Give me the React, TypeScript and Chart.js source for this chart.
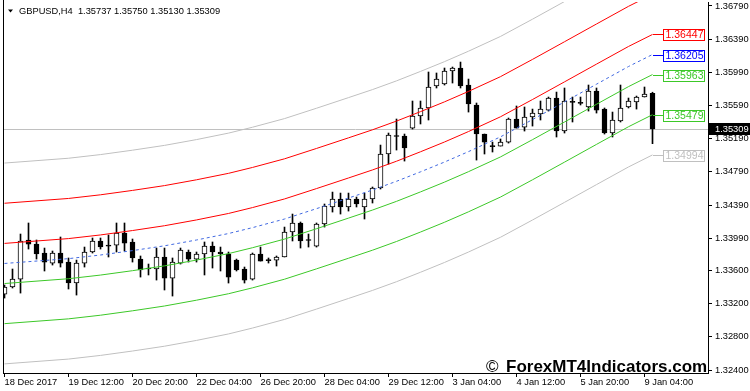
import React, { useEffect, useRef } from "react";
import { Chart, registerables } from "chart.js";

Chart.register(...registerables);

// ---- Data (GBPUSD, H4) ----
const symbol = "GBPUSD,H4";

const opens = [
  1.33316, 1.33401, 1.33497, 1.33968, 1.33919, 1.33811, 1.3369, 1.33811, 1.33702, 1.33449,
  1.3369, 1.33823, 1.33956, 1.33907, 1.33907, 1.34052, 1.33944, 1.33738, 1.3363, 1.33618,
  1.33763, 1.33509, 1.3369, 1.33823, 1.33738, 1.33799, 1.33895, 1.33823, 1.33799, 1.33726,
  1.33618, 1.33497, 1.33799, 1.33726, 1.33726, 1.33763, 1.34064, 1.34173, 1.33968, 1.33895,
  1.34161, 1.34366, 1.34462, 1.34366, 1.34462, 1.34366, 1.34462, 1.34595, 1.35005, 1.35222,
  1.35222, 1.35318, 1.35463, 1.3556, 1.35825, 1.35849, 1.36006, 1.36042, 1.35837, 1.35596,
  1.35246, 1.35101, 1.35101, 1.35149, 1.35427, 1.3533, 1.35451, 1.35487, 1.35535, 1.3568,
  1.35282, 1.35632, 1.3562, 1.35572, 1.35765, 1.35547, 1.35258, 1.35403, 1.35572, 1.35632,
  1.35692, 1.35737,
];
const highs = [
  1.33425, 1.33618, 1.3404, 1.34173, 1.33968, 1.33871, 1.33835, 1.34004, 1.33751, 1.33726,
  1.33883, 1.33992, 1.33992, 1.34028, 1.34173, 1.34173, 1.3398, 1.33775, 1.33678, 1.33871,
  1.33871, 1.33751, 1.33871, 1.33847, 1.33823, 1.33944, 1.33944, 1.33883, 1.33823, 1.33738,
  1.33642, 1.33811, 1.33883, 1.33751, 1.33775, 1.34124, 1.34281, 1.34185, 1.3404, 1.34173,
  1.34402, 1.34546, 1.34534, 1.34534, 1.34486, 1.34534, 1.34607, 1.35113, 1.35258, 1.35427,
  1.35246, 1.35644, 1.35644, 1.35994, 1.35982, 1.36042, 1.36054, 1.36114, 1.35909, 1.3562,
  1.35246, 1.35149, 1.35186, 1.35439, 1.35584, 1.35572, 1.35547, 1.35644, 1.35692, 1.35752,
  1.35801, 1.35692, 1.35692, 1.35837, 1.35801, 1.3556, 1.35511, 1.35837, 1.3568, 1.35704,
  1.35813, 1.3575,
];
const lows = [
  1.33268, 1.33389, 1.33328, 1.33859, 1.33738, 1.33594, 1.33666, 1.33642, 1.33377, 1.33304,
  1.33642, 1.33811, 1.33859, 1.33763, 1.33823, 1.33835, 1.33702, 1.33521, 1.33546, 1.33485,
  1.33365, 1.33292, 1.33678, 1.33702, 1.33702, 1.33546, 1.3363, 1.33594, 1.33449, 1.33594,
  1.33449, 1.33485, 1.33714, 1.3369, 1.33654, 1.33763, 1.33956, 1.33871, 1.33883, 1.33883,
  1.34124, 1.34305, 1.34281, 1.34317, 1.34366, 1.34221, 1.34414, 1.34583, 1.34884, 1.35053,
  1.3492, 1.35306, 1.35367, 1.35415, 1.35801, 1.35837, 1.35861, 1.35801, 1.35511, 1.34932,
  1.35005, 1.35029, 1.35101, 1.35137, 1.35318, 1.35282, 1.35342, 1.35415, 1.35523, 1.3521,
  1.35258, 1.35391, 1.35596, 1.35523, 1.35499, 1.35246, 1.3521, 1.35391, 1.3556, 1.35547,
  1.35692, 1.3513,
];
const closes = [
  1.33401, 1.33497, 1.33956, 1.33919, 1.33799, 1.33702, 1.33811, 1.3369, 1.33449, 1.3369,
  1.33823, 1.33956, 1.33883, 1.33895, 1.34052, 1.33931, 1.33751, 1.33606, 1.33618, 1.33763,
  1.33509, 1.33702, 1.33847, 1.33738, 1.33799, 1.33895, 1.33823, 1.33799, 1.33521, 1.33606,
  1.33485, 1.33799, 1.33714, 1.3372, 1.33763, 1.34064, 1.34173, 1.33956, 1.33962, 1.34161,
  1.34378, 1.34462, 1.34366, 1.34462, 1.34402, 1.34462, 1.34595, 1.35005, 1.35234, 1.35216,
  1.35077, 1.35463, 1.3556, 1.35813, 1.35909, 1.36006, 1.36042, 1.35825, 1.35608, 1.35246,
  1.35149, 1.35095, 1.35149, 1.35427, 1.35318, 1.35451, 1.35499, 1.35547, 1.3568, 1.35282,
  1.35644, 1.35628, 1.35616, 1.35765, 1.35535, 1.35258, 1.35415, 1.3556, 1.35644, 1.35692,
  1.35728, 1.35309,
];

// x-axis tick labels (bar index -> label)
const xTickIndex = [0, 8, 16, 24, 32, 40, 48, 56, 64, 72, 80];
const xTickLabels = [
  "18 Dec 2017", "19 Dec 12:00", "20 Dec 20:00", "22 Dec 04:00", "26 Dec 20:00",
  "28 Dec 04:00", "29 Dec 12:00", "3 Jan 04:00", "4 Jan 12:00", "5 Jan 20:00", "9 Jan 04:00",
];
// y-axis tick values
const yTicks = [1.324, 1.328, 1.332, 1.336, 1.3399, 1.3439, 1.3479, 1.3519, 1.3559, 1.3599, 1.3639, 1.3679];
const yMin = 1.32364;
const yMax = 1.368382;

// regression channel lines, sampled at these bar indices
const bandIndex = [0, 8, 12, 16, 20, 24, 28, 31, 35, 39, 43, 46, 49, 52, 55, 58, 62, 66, 70, 74, 78, 81];
const upper3 = [1.34896, 1.34954, 1.34998, 1.35051, 1.35109, 1.35179, 1.35257, 1.35328, 1.35432, 1.35557, 1.35685, 1.35782, 1.35887, 1.36001, 1.36119, 1.36245, 1.36423, 1.36631, 1.36844, 1.37058, 1.37271, 1.37416];
const upper2 = [1.34411, 1.34469, 1.34513, 1.34566, 1.34624, 1.34694, 1.34772, 1.34843, 1.34947, 1.35072, 1.352, 1.35297, 1.35402, 1.35516, 1.35634, 1.3576, 1.35938, 1.36146, 1.36359, 1.36573, 1.36786, 1.36931];
const upper1 = [1.33927, 1.33985, 1.34029, 1.34082, 1.3414, 1.3421, 1.34288, 1.34359, 1.34463, 1.34588, 1.34716, 1.34813, 1.34918, 1.35032, 1.3515, 1.35276, 1.35454, 1.35662, 1.35875, 1.36089, 1.36302, 1.36447];
const midLine = [1.33685, 1.33743, 1.33787, 1.3384, 1.33898, 1.33968, 1.34046, 1.34117, 1.34221, 1.34346, 1.34474, 1.34571, 1.34676, 1.3479, 1.34908, 1.35034, 1.35212, 1.3542, 1.35633, 1.35847, 1.3606, 1.36205];
const lower1 = [1.33443, 1.33501, 1.33545, 1.33598, 1.33656, 1.33726, 1.33804, 1.33875, 1.33979, 1.34104, 1.34232, 1.34329, 1.34434, 1.34548, 1.34666, 1.34792, 1.3497, 1.35178, 1.35391, 1.35605, 1.35818, 1.35963];
const lower2 = [1.32959, 1.33017, 1.33061, 1.33114, 1.33172, 1.33242, 1.3332, 1.33391, 1.33495, 1.3362, 1.33748, 1.33845, 1.3395, 1.34064, 1.34182, 1.34308, 1.34486, 1.34694, 1.34907, 1.35121, 1.35334, 1.35479];
const lower3 = [1.32474, 1.32532, 1.32576, 1.32629, 1.32687, 1.32757, 1.32835, 1.32906, 1.3301, 1.33135, 1.33263, 1.3336, 1.33465, 1.33579, 1.33697, 1.33823, 1.34001, 1.34209, 1.34422, 1.34636, 1.34849, 1.34994];

const currentPrice = closes[closes.length - 1];
const watermark = "ForexMT4Indicators.com";

// ---- Styles ----
const FONT = '"Liberation Sans", Arial, sans-serif';
const bandStyles = [
  { values: upper3, color: "#c0c0c0", labelColor: "#c0c0c0", dash: [] as number[] },
  { values: upper2, color: "#ff0000", labelColor: "#ff0000", dash: [] as number[] },
  { values: upper1, color: "#ff0000", labelColor: "#ff0000", dash: [] as number[] },
  { values: midLine, color: "#4169e1", labelColor: "#0000ff", dash: [3, 3] },
  { values: lower1, color: "#3cc828", labelColor: "#3cc828", dash: [] as number[] },
  { values: lower2, color: "#3cc828", labelColor: "#3cc828", dash: [] as number[] },
  { values: lower3, color: "#c0c0c0", labelColor: "#c0c0c0", dash: [] as number[] },
];

const decorPlugin = {
  id: "mt4decor",
  beforeDatasetsDraw(chart: any) {
    const { ctx, chartArea: a, scales } = chart;
    const py = Math.round(scales.y.getPixelForValue(currentPrice)) + 0.5;
    ctx.save();
    ctx.strokeStyle = "#c0c0c0";
    ctx.lineWidth = 1;
    ctx.beginPath();
    ctx.moveTo(a.left, py);
    ctx.lineTo(a.right, py);
    ctx.stroke();
    ctx.restore();
  },
  afterDraw(chart: any) {
    const { ctx, chartArea: a, scales } = chart;
    const x = scales.x;
    const y = scales.y;
    ctx.save();
    ctx.lineWidth = 1;
    // left frame line
    ctx.strokeStyle = "#000";
    ctx.beginPath();
    ctx.moveTo(a.left + 0.5, 0);
    ctx.lineTo(a.left + 0.5, a.bottom + 1);
    ctx.stroke();

    // band end labels
    const lastX = Math.round(x.getPixelForValue(bandIndex[bandIndex.length - 1]));
    bandStyles.forEach((b) => {
      const v = b.values[b.values.length - 1];
      const py = y.getPixelForValue(v);
      if (py < a.top + 4 || py > a.bottom - 4) return;
      const cy = Math.round(py);
      const bx = lastX + 10;
      ctx.strokeStyle = b.labelColor;
      ctx.beginPath();
      ctx.moveTo(lastX, cy + 0.5);
      ctx.lineTo(bx, cy + 0.5);
      ctx.stroke();
      ctx.fillStyle = "#fff";
      ctx.fillRect(bx, cy - 5, 42, 12);
      ctx.strokeRect(bx + 0.5, cy - 4.5, 41, 11);
      ctx.fillStyle = b.labelColor;
      ctx.font = `10.5px ${FONT}`;
      ctx.textAlign = "center";
      ctx.textBaseline = "middle";
      ctx.fillText(v.toFixed(5), bx + 21.5, cy + 1.5);
    });

    // current price box on the axis
    const cp = Math.round(y.getPixelForValue(currentPrice));
    ctx.fillStyle = "#000";
    ctx.fillRect(a.right + 1, cp - 6, 42, 12);
    ctx.fillStyle = "#fff";
    ctx.font = `9.3px ${FONT}`;
    ctx.textAlign = "left";
    ctx.textBaseline = "middle";
    ctx.fillText(currentPrice.toFixed(5), a.right + 7, cp + 0.5);

    // title
    ctx.fillStyle = "#000";
    ctx.beginPath();
    ctx.moveTo(8, 9.5);
    ctx.lineTo(13, 9.5);
    ctx.lineTo(10.5, 12.5);
    ctx.closePath();
    ctx.fill();
    const n = opens.length - 1;
    const title =
      symbol + "  " + [opens[n], highs[n], lows[n], closes[n]].map((v) => v.toFixed(5)).join(" ");
    ctx.font = `9.3px ${FONT}`;
    ctx.textBaseline = "alphabetic";
    ctx.textAlign = "left";
    ctx.fillText(title, 19, 14);

    // watermark
    ctx.font = `17px ${FONT}`;
    ctx.fillText("\u00A9", 486, 372);
    ctx.font = `bold 17px ${FONT}`;
    ctx.fillText(watermark, 506, 372);
    ctx.restore();
  },
};

export default function App() {
  const ref = useRef<HTMLCanvasElement>(null);

  useEffect(() => {
    document.body.style.margin = "0";
    const idx = opens.map((_, i) => i);
    const bodyData = idx.map((i) => ({ x: i, y: [opens[i], closes[i]] }));
    const wickData = idx.map((i) => ({ x: i, y: [lows[i], highs[i]] }));

    const lineSets = bandStyles.map((b) => ({
      type: "line" as const,
      data: bandIndex.map((xi, k) => ({ x: xi, y: b.values[k] })),
      borderColor: b.color,
      borderWidth: 1,
      borderDash: b.dash,
      pointRadius: 0,
      tension: 0,
      fill: false,
    }));

    const chart = new Chart(ref.current as HTMLCanvasElement, {
      type: "bar",
      data: {
        datasets: [
          ...lineSets,
          {
            type: "bar",
            data: bodyData as any,
            barThickness: 5,
            grouped: false,
            minBarLength: 1,
            backgroundColor: (c: any) => (closes[c.dataIndex] > opens[c.dataIndex] ? "#ffffff" : "#000000"),
            borderColor: "#000000",
            borderWidth: 1,
            borderSkipped: false,
          },
          {
            type: "bar",
            data: wickData as any,
            barThickness: 1,
            grouped: false,
            backgroundColor: "#000000",
            borderWidth: 0,
          },
        ] as any,
      },
      options: {
        animation: false,
        responsive: false,
        events: [],
        layout: { padding: { left: 3, top: 2, right: 0, bottom: 0 } },
        plugins: { legend: { display: false }, tooltip: { enabled: false } },
        scales: {
          x: {
            type: "linear",
            min: -0.1875,
            max: 87.9375,
            offset: false,
            grid: { drawOnChartArea: false, drawTicks: true, tickLength: 4, color: "#000", offset: false },
            border: { display: true, color: "#000", width: 1 },
            ticks: {
              autoSkip: false,
              maxRotation: 0,
              minRotation: 0,
              align: "start",
              padding: 0,
              color: "#000",
              font: { size: 9.3, family: FONT },
              callback: (_v: any, i: number) => xTickLabels[i],
            },
            afterBuildTicks: (s: any) => {
              s.ticks = xTickIndex.map((v) => ({ value: v }));
            },
            afterFit: (s: any) => {
              s.height = 18;
              s.paddingLeft = 0;
              s.paddingRight = 0;
              s.paddingTop = 0;
              s.paddingBottom = 0;
            },
          },
          y: {
            type: "linear",
            position: "right",
            min: yMin,
            max: yMax,
            grid: { drawOnChartArea: false, drawTicks: true, tickLength: 4, color: "#000" },
            border: { display: true, color: "#000", width: 1 },
            ticks: {
              padding: 3,
              color: "#000",
              font: { size: 9.3, family: FONT },
              callback: (v: any) => Number(v).toFixed(5),
            },
            afterBuildTicks: (s: any) => {
              s.ticks = yTicks.map((v) => ({ value: v }));
            },
            afterFit: (s: any) => {
              s.width = 42;
              s.paddingLeft = 0;
              s.paddingRight = 0;
              s.paddingTop = 0;
              s.paddingBottom = 0;
            },
          },
        },
      } as any,
      plugins: [decorPlugin],
    });
    return () => chart.destroy();
  }, []);

  return (
    <div style={{ width: 750, height: 391, position: "relative", background: "#fff" }}>
      <canvas ref={ref} width={750} height={391} style={{ display: "block" }} />
    </div>
  );
}
